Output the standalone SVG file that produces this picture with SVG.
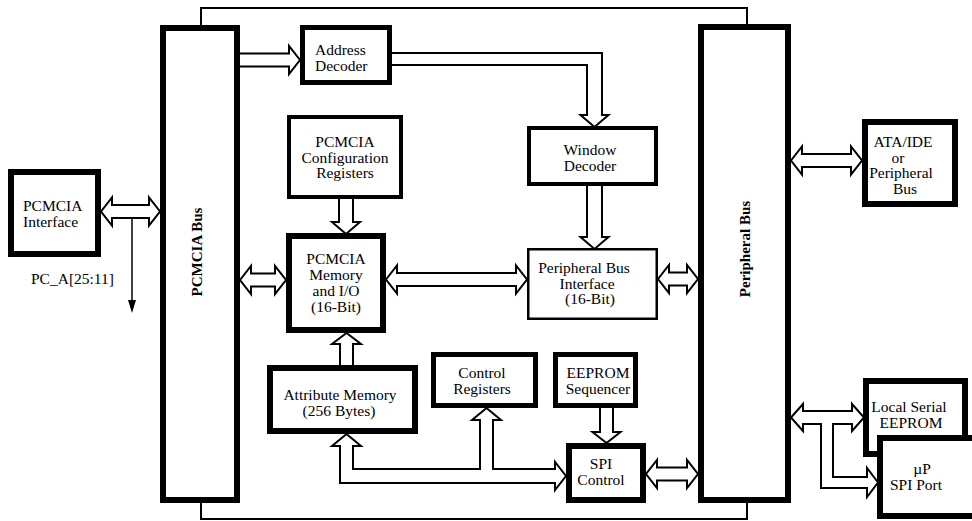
<svg xmlns="http://www.w3.org/2000/svg" width="972" height="521" viewBox="0 0 972 521">
<style>
.box{fill:#fff;stroke:#000}
.t{font-family:"Liberation Serif","Times New Roman",serif;font-size:15.5px;fill:#000}
.m{text-anchor:middle}
.b{font-weight:bold;font-size:15px}
.arr{fill:#fff;stroke:#000;stroke-width:2;stroke-linejoin:miter}
.ln{fill:none;stroke:#000;stroke-width:2}
</style>
<rect width="972" height="521" fill="#fff"/>
<g id="frame">
<path class="ln" d="M201,25 V8 H747 V24"/>
<path class="ln" d="M201,503 V519 H747 V503"/>
</g>
<g id="connectors">
<polygon class="arr" points="101,211.5 112,197.5 112,205 149,205 149,197.5 160,211.5 149,225.5 149,218 112,218 112,225.5"/>
<line x1="132" y1="219" x2="132" y2="302" stroke="#000" stroke-width="1.5"/>
<polygon points="128,300 136,300 132,313" fill="#000"/>
<polygon class="arr" points="237,53.5 289,53.5 289,46 300,60 289,74 289,66.5 237,66.5"/>
<polygon class="arr" points="389,53 602,53 602,115 608.5,115 594.5,127 580.5,115 587,115 587,65 389,65"/>
<polygon class="arr" points="339,197 353,197 353,222 360,222 346,234 332,222 339,222"/>
<polygon class="arr" points="587,184 602,184 602,237 608.5,237 594.5,249 580.5,237 587,237"/>
<polygon class="arr" points="240,280 251,266 251,273.5 275,273.5 275,266 286,280 275,294 275,286.5 251,286.5 251,294"/>
<polygon class="arr" points="386,279.5 397,265.5 397,273 516,273 516,265.5 527,279.5 516,293.5 516,286 397,286 397,293.5"/>
<polygon class="arr" points="658,279 669,265 669,272.5 687,272.5 687,265 698,279 687,293 687,285.5 669,285.5 669,293"/>
<polygon class="arr" points="791,160.5 802,146.5 802,154 851,154 851,146.5 862,160.5 851,174.5 851,167 802,167 802,174.5"/>
<polygon class="arr" points="340,368 340,344 332,344 346.5,333 361,344 353,344 353,368"/>
<polygon class="arr" points="600,406 613,406 613,432 620.5,432 606.5,443 592.5,432 600,432"/>
<polygon class="arr" points="346.5,434 361,446 353,446 353,469 480,469 480,420 472,420 486.5,408 501,420 493,420 493,469 555,469 555,462 566,476 555,490 555,483 340,483 340,446 332,446"/>
<polygon class="arr" points="646,474 657,460 657,467.5 687,467.5 687,460 698,474 687,488 687,480.5 657,480.5 657,488"/>
<polygon class="arr" points="791,417.5 803,404 803,411 852,411 852,404 864,417.5 852,431 852,424 833,424 833,477 867,477 867,468 878,482.5 867,497 867,488 821,488 821,424 803,424 803,431"/>
</g>
<g id="pcmcia-interface">
<rect class="box" x="11" y="172" width="87" height="82" stroke-width="6"/>
<text class="t" x="23" y="211">PCMCIA</text>
<text class="t" x="23" y="227">Interface</text>
</g>
<text class="t" x="31" y="284">PC_A[25:11]</text>
<g id="pcmcia-bus">
<rect class="box" x="163" y="28" width="74" height="472" stroke-width="6"/>
<text class="t m b" transform="translate(202,252) rotate(-90)">PCMCIA Bus</text>
</g>
<g id="address-decoder">
<rect class="box" x="302.5" y="27.5" width="87" height="55" stroke-width="5"/>
<text class="t" x="315" y="54.5">Address</text>
<text class="t" x="315" y="70.5">Decoder</text>
</g>
<g id="config-registers">
<rect class="box" x="289" y="117" width="112" height="80" stroke-width="4"/>
<text class="t m" x="345" y="147">PCMCIA</text>
<text class="t m" x="345" y="162.5">Configuration</text>
<text class="t m" x="345" y="178">Registers</text>
</g>
<g id="window-decoder">
<rect class="box" x="529" y="128" width="127" height="56" stroke-width="4"/>
<text class="t m" x="590" y="155">Window</text>
<text class="t m" x="590" y="170.5">Decoder</text>
</g>
<g id="pcmcia-memory">
<rect class="box" x="289" y="236" width="94" height="94" stroke-width="6"/>
<text class="t m" x="336" y="264">PCMCIA</text>
<text class="t m" x="336" y="280">Memory</text>
<text class="t m" x="336" y="296">and I/O</text>
<text class="t m" x="336" y="312">(16-Bit)</text>
</g>
<g id="peripheral-bus-interface">
<rect class="box" x="528.25" y="249.25" width="128.5" height="69.5" stroke-width="2.5"/>
<text class="t m" x="584" y="273">Peripheral Bus</text>
<text class="t m" x="587" y="288.5">Interface</text>
<text class="t m" x="590" y="304">(16-Bit)</text>
</g>
<g id="attribute-memory">
<rect class="box" x="270" y="368" width="145" height="63" stroke-width="6"/>
<text class="t m" x="340" y="400">Attribute Memory</text>
<text class="t m" x="339" y="415.5">(256 Bytes)</text>
</g>
<g id="control-registers">
<rect class="box" x="433.5" y="354.5" width="102" height="51" stroke-width="5"/>
<text class="t m" x="482" y="378">Control</text>
<text class="t m" x="482" y="393.5">Registers</text>
</g>
<g id="eeprom-sequencer">
<rect class="box" x="555.5" y="354.5" width="80" height="51" stroke-width="5"/>
<text class="t m" x="598" y="378">EEPROM</text>
<text class="t m" x="598" y="393.5">Sequencer</text>
</g>
<g id="spi-control">
<rect class="box" x="569" y="446" width="74" height="54" stroke-width="6"/>
<text class="t m" x="601" y="469">SPI</text>
<text class="t m" x="601" y="484.5">Control</text>
</g>
<g id="peripheral-bus">
<rect class="box" x="701" y="27" width="87" height="473" stroke-width="6"/>
<text class="t m b" transform="translate(750,249) rotate(-90)">Peripheral Bus</text>
</g>
<g id="ata-ide">
<rect class="box" x="865" y="122" width="90" height="82" stroke-width="6"/>
<text class="t m" x="903" y="147">ATA/IDE</text>
<text class="t m" x="898" y="162.5">or</text>
<text class="t m" x="901" y="178">Peripheral</text>
<text class="t m" x="905" y="193.5">Bus</text>
</g>
<g id="local-serial-eeprom">
<rect class="box" x="866" y="381" width="99" height="73" stroke-width="6"/>
<text class="t m" x="909" y="412">Local Serial</text>
<text class="t m" x="911" y="428">EEPROM</text>
</g>
<g id="up-spi-port">
<rect class="box" x="880" y="438" width="100" height="78" stroke-width="6"/>
<text class="t m" x="922" y="474">µP</text>
<text class="t m" x="916" y="490">SPI Port</text>
</g>
</svg>
